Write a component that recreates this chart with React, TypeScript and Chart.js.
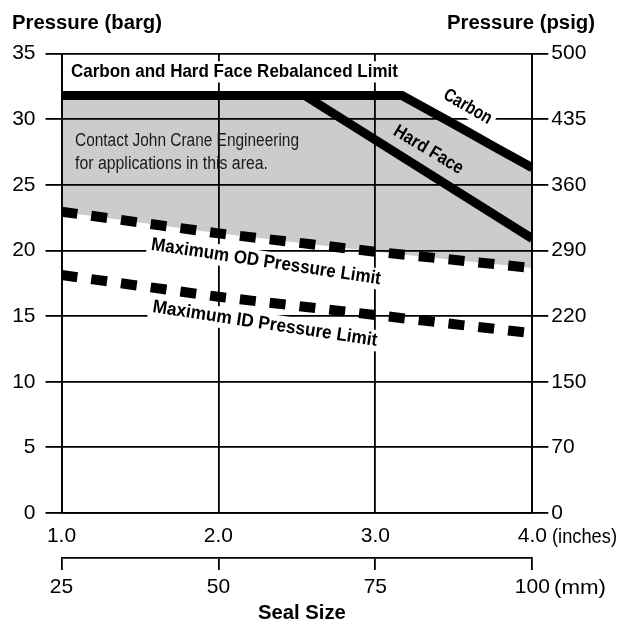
import React, { useEffect, useRef } from 'react';
import { Chart, registerables } from 'chart.js';

Chart.register(...registerables);

// ---- data ----
const INCH_TICKS = [1, 2, 3, 4];
const MM_TICKS = [25, 50, 75, 100];
const BARG_TICKS = [0, 5, 10, 15, 20, 25, 30, 35];
const PSIG_LABELS = ['0', '70', '150', '220', '290', '360', '435', '500'];

const CARBON_X = [1, 3.17, 3.52, 3.75, 4];
const CARBON_Y = [31.8, 31.8, 29.5, 27.95, 26.3];
const OD_X = [1, 2, 3, 4];
const OD_Y = [22.95, 21.3, 19.9, 18.66];
const ID_X = [1, 2, 3, 4];
const ID_Y = [18.13, 16.47, 15.08, 13.69];
const HARD_X = [2.55, 4];
const HARD_Y = [31.8, 20.9];

const NOTE_TEXTS = [
  'Carbon and Hard Face Rebalanced Limit',
  'Contact John Crane Engineering',
  'for applications in this area.',
  'Carbon',
  'Hard Face',
  'Maximum OD Pressure Limit',
  'Maximum ID Pressure Limit',
];

// ---- styling / placement ----
const FONT = "'Liberation Sans', Arial, sans-serif";
const GRAY = '#cccccc';
const GRID_W = 1.8;

// w = target rendered width in px (text is horizontally condensed to fit)
const NOTES = [
  { t: 0, x: 1.06, y: 33.6, angle: 0, bold: true, size: 18.5, w: 327, align: 'left', bg: true },
  { t: 1, x: 1.086, y: 28.37, angle: 0, bold: false, size: 18, w: 224, align: 'left', bg: false },
  { t: 2, x: 1.086, y: 26.6, angle: 0, bold: false, size: 18, w: 193, align: 'left', bg: false },
  { t: 3, x: 3.588, y: 30.94, angle: 30, bold: true, size: 18.5, w: 53, align: 'center', bg: true },
  { t: 4, x: 3.338, y: 27.65, angle: 31, bold: true, size: 18.5, w: 78, align: 'center', bg: false },
  { t: 5, x: 2.303, y: 19.12, angle: 8.6, bold: true, size: 18.5, w: 232, align: 'center', bg: true },
  { t: 6, x: 2.297, y: 14.4, angle: 8.6, bold: true, size: 18.5, w: 227, align: 'center', bg: true },
];

const toPts = (xs: number[], ys: number[]) => xs.map((x, i) => ({ x, y: ys[i] }));

function fitText(
  ctx: CanvasRenderingContext2D,
  text: string,
  x: number,
  y: number,
  font: string,
  targetW: number,
  align: CanvasTextAlign,
  angleDeg = 0,
  bg = false,
  color = '#000',
  size = 18
) {
  ctx.save();
  ctx.font = font;
  const w = ctx.measureText(text).width;
  const sx = targetW / w;
  ctx.translate(x, y);
  ctx.rotate((angleDeg * Math.PI) / 180);
  ctx.scale(sx, 1);
  if (bg) {
    const h = size * 1.15;
    const pad = 4 / sx;
    ctx.fillStyle = '#fff';
    const left = align === 'left' ? 0 : align === 'right' ? -w : -w / 2;
    ctx.fillRect(left - pad, -h / 2, w + 2 * pad, h);
  }
  ctx.fillStyle = color;
  ctx.textAlign = align;
  ctx.textBaseline = 'middle';
  ctx.fillText(text, 0, 0);
  ctx.restore();
}

const textPlugin = {
  id: 'sealTexts',
  beforeDatasetsDraw(chart: any) {
    const { ctx, scales } = chart;
    NOTES.forEach((n) => {
      const px = scales.x.getPixelForValue(n.x);
      const py = scales.y.getPixelForValue(n.y);
      fitText(
        ctx,
        NOTE_TEXTS[n.t],
        px,
        py,
        `${n.bold ? 'bold ' : ''}${n.size}px ${FONT}`,
        n.w,
        n.align as CanvasTextAlign,
        n.angle,
        n.bg,
        n.bold ? '#000' : '#1a1a1a',
        n.size
      );
    });
  },
  afterDraw(chart: any) {
    const { ctx, chartArea } = chart;
    fitText(ctx, 'Pressure (barg)', 12, 23, `bold 20px ${FONT}`, 150, 'left');
    fitText(ctx, 'Pressure (psig)', 595, 23, `bold 20px ${FONT}`, 148, 'right');
    fitText(ctx, 'Seal Size', (chartArea.left + chartArea.right) / 2 + 5, 613, `bold 20px ${FONT}`, 88, 'center');
    fitText(ctx, '(inches)', 552, 537, `21px ${FONT}`, 65, 'left');
    fitText(ctx, '(mm)', 554, 588, `21px ${FONT}`, 52, 'left');
  },
};

export default function App() {
  const ref = useRef<HTMLCanvasElement | null>(null);

  useEffect(() => {
    if (!ref.current) return;
    const tickFont = { family: FONT, size: 21 };
    const dashed = {
      borderColor: '#000',
      borderWidth: 10,
      borderDash: [16, 14],
      borderCapStyle: 'butt',
      pointRadius: 0,
      fill: false,
    };
    const chart = new Chart(ref.current, {
      type: 'line',
      data: {
        datasets: [
          {
            label: 'Carbon',
            data: toPts(CARBON_X, CARBON_Y),
            borderColor: '#000',
            borderWidth: 9,
            borderJoinStyle: 'miter',
            pointRadius: 0,
            backgroundColor: GRAY,
            fill: 1,
          },
          { label: 'Maximum OD Pressure Limit', data: toPts(OD_X, OD_Y), ...dashed },
          { label: 'Maximum ID Pressure Limit', data: toPts(ID_X, ID_Y), ...dashed },
          {
            label: 'Hard Face',
            data: toPts(HARD_X, HARD_Y),
            borderColor: '#000',
            borderWidth: 9,
            pointRadius: 0,
            fill: false,
          },
        ],
      } as any,
      options: {
        animation: false,
        responsive: true,
        maintainAspectRatio: false,
        layout: { padding: { top: 53.5, left: 0, right: 0, bottom: 0 } },
        plugins: {
          legend: { display: false },
          tooltip: { enabled: false },
          filler: { drawTime: 'beforeDraw' },
        } as any,
        scales: {
          x: {
            type: 'linear',
            position: 'bottom',
            min: 1,
            max: 4,
            afterBuildTicks: (s: any) => {
              s.ticks = INCH_TICKS.map((v) => ({ value: v }));
            },
            afterFit: (s: any) => {
              s.height = 45;
            },
            ticks: {
              font: tickFont,
              color: '#000',
              padding: 11,
              maxRotation: 0,
              callback: (v: any) => Number(v).toFixed(1),
            },
            grid: { color: '#000', lineWidth: GRID_W, drawTicks: false },
            border: { display: true, color: '#000', width: GRID_W },
          },
          x2: {
            type: 'linear',
            position: 'bottom',
            weight: 1,
            min: 25,
            max: 100,
            afterBuildTicks: (s: any) => {
              s.ticks = MM_TICKS.map((v) => ({ value: v }));
            },
            afterFit: (s: any) => {
              s.height = 67;
            },
            ticks: {
              font: tickFont,
              color: '#000',
              padding: 5,
              maxRotation: 0,
              callback: (v: any) => String(v),
            },
            grid: { color: '#000', lineWidth: GRID_W, drawOnChartArea: false, drawTicks: true, tickLength: 12 },
            border: { display: true, color: '#000', width: GRID_W },
          },
          y: {
            type: 'linear',
            position: 'left',
            min: 0,
            max: 35,
            afterBuildTicks: (s: any) => {
              s.ticks = BARG_TICKS.map((v) => ({ value: v }));
            },
            afterFit: (s: any) => {
              s.width = 61.5;
            },
            ticks: { font: tickFont, color: '#000', padding: 10 },
            grid: { color: '#000', lineWidth: GRID_W, tickLength: 16 },
            border: { display: true, color: '#000', width: GRID_W },
          },
          y2: {
            type: 'linear',
            position: 'right',
            min: 0,
            max: 35,
            afterBuildTicks: (s: any) => {
              s.ticks = BARG_TICKS.map((v) => ({ value: v }));
            },
            afterFit: (s: any) => {
              s.width = 85.7;
            },
            ticks: {
              font: tickFont,
              color: '#000',
              padding: 3,
              callback: (_v: any, i: number) => PSIG_LABELS[i],
            },
            grid: { color: '#000', lineWidth: GRID_W, drawOnChartArea: false, tickLength: 16 },
            border: { display: true, color: '#000', width: GRID_W },
          },
        },
      } as any,
      plugins: [textPlugin],
    });
    return () => chart.destroy();
  }, []);

  return (
    <div style={{ position: 'fixed', left: 0, top: 0, width: 618, height: 625, background: '#fff' }}>
      <canvas ref={ref} />
    </div>
  );
}
